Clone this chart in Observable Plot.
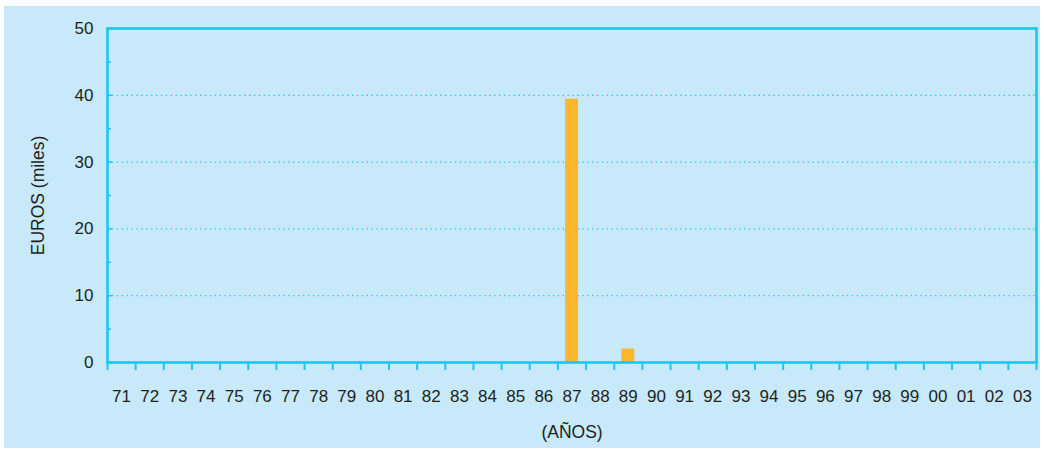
<!DOCTYPE html>
<html>
<head>
<meta charset="utf-8">
<script src="https://cdn.jsdelivr.net/npm/d3@7"></script>
<script src="https://cdn.jsdelivr.net/npm/@observablehq/plot@0.6"></script>
<style>
  html, body { margin: 0; padding: 0; background: #ffffff; }
  #wrap { position: relative; width: 1044px; height: 454px; }
  #bg { position: absolute; left: 4px; top: 6px; width: 1036px; height: 442px; background: #c7e9f9; }
  #chart { position: absolute; left: 0; top: 0; }
</style>
</head>
<body>
<div id="wrap"><div id="bg"></div><div id="chart"></div></div>
<script>
const years = ["71","72","73","74","75","76","77","78","79","80","81","82","83","84","85","86","87","88","89","90","91","92","93","94","95","96","97","98","99","00","01","02","03"];
const values = [0,0,0,0,0,0,0,0,0,0,0,0,0,0,0,0,39.4,0,2.0,0,0,0,0,0,0,0,0,0,0,0,0,0,0];
const yTicks = [0, 10, 20, 30, 40, 50];
const yGrid = [10, 20, 30, 40];
const yMinor = [5, 15, 25, 35, 45];
const yLabel = "EUROS (miles)";
const xLabel = "(AÑOS)";

const cyan = "#1cc5f2";
const orange = "#fbb72c";
const ink = "#231f20";

const data = years.map((y, i) => ({i, year: y, v: values[i]})).filter(d => d.v > 0);
const n = years.length;

const chart = Plot.plot({
  width: 1044,
  height: 454,
  marginLeft: 107,
  marginRight: 8,
  marginTop: 28,
  marginBottom: 92,
  style: {background: "transparent", fontFamily: "'Liberation Sans', Arial, sans-serif", fontSize: "17px", color: ink},
  x: {type: "linear", domain: [0, n], axis: null},
  y: {domain: [0, 50], axis: null},
  marks: [
    Plot.ruleY(yGrid, {stroke: cyan, strokeWidth: 1.3, strokeDasharray: "1.3,3.6"}),
    Plot.rectY(data, {x1: d => d.i, x2: d => d.i + 1, y: "v", insetLeft: 7.6, insetRight: 7.6, fill: orange}),
    Plot.axisX({ticks: d3.range(n + 1), tickSize: 8, tickFormat: () => "", stroke: cyan, strokeWidth: 2, label: null}),
    Plot.axisX({ticks: d3.range(n).map(i => i + 0.5), tickSize: 0, tickPadding: 27, tickFormat: t => years[Math.round(t - 0.5)], fontSize: 17, fill: ink, label: null}),
    Plot.axisY({ticks: yTicks, tickSize: -5, tickPadding: 19, fontSize: 17, fill: ink, stroke: cyan, strokeWidth: 1.5, label: null}),
    Plot.axisY({ticks: yMinor, tickSize: -4, tickFormat: () => "", stroke: cyan, strokeWidth: 1.5, label: null}),
    Plot.frame({stroke: cyan, strokeWidth: 2.6}),
    Plot.text([yLabel], {frameAnchor: "left", textAnchor: "middle", rotate: -90, dx: -69, fontSize: 17.5, fill: ink}),
    Plot.text([xLabel], {frameAnchor: "bottom", dy: 75, fontSize: 17.5, fill: ink})
  ]
});
document.getElementById("chart").appendChild(chart);
</script>
</body>
</html>
